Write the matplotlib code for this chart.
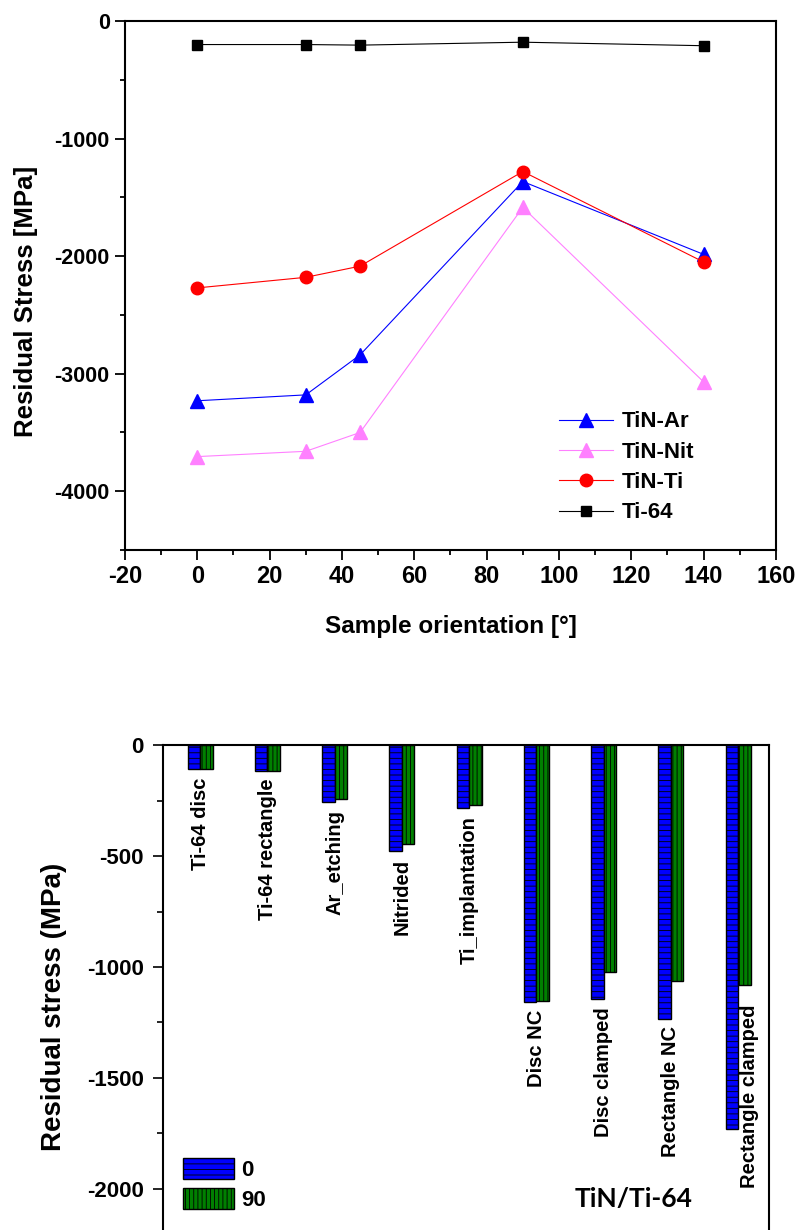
import numpy as np
import matplotlib
matplotlib.use("Agg")
from matplotlib import pyplot as plt
from matplotlib.ticker import MultipleLocator, FixedLocator

plt.rcParams['font.family'] = ['Liberation Sans', 'DejaVu Sans']
plt.rcParams['axes.unicode_minus'] = False
plt.rcParams['hatch.linewidth'] = 0.6

# top panel: residual stress vs sample orientation
orientation = [0, 30, 45, 90, 140]
tin_ar = [-3230, -3180, -2840, -1365, -1985]
tin_nit = [-3705, -3660, -3500, -1585, -3070]
tin_ti = [-2270, -2180, -2085, -1280, -2050]
ti64 = [-200, -200, -205, -180, -210]

# bottom panel: residual stress per sample, 0 and 90 deg
categories = ["Ti-64 disc", "Ti-64 rectangle", "Ar_etching", "Nitrided",
              "Ti_implantation", "Disc NC", "Disc clamped", "Rectangle NC",
              "Rectangle clamped"]
stress_0 = [-110, -116, -257, -476, -284, -1156, -1146, -1232, -1732]
stress_90 = [-110, -115, -243, -447, -269, -1153, -1023, -1065, -1081]

fig = plt.figure(figsize=(7.98, 12.3), dpi=100)

# ---------------- top panel ----------------
ax1 = fig.add_axes([0.1566, 0.5528, 0.8158, 0.4301])
ax1.plot(orientation, tin_ar, color='#0000ff', lw=0.8, marker='^', ms=10, label='TiN-Ar')
ax1.plot(orientation, tin_nit, color='#ff80ff', lw=0.8, marker='^', ms=10, label='TiN-Nit')
ax1.plot(orientation, tin_ti, color='#ff0000', lw=0.8, marker='o', ms=9, label='TiN-Ti')
ax1.plot(orientation, ti64, color='black', lw=0.8, marker='s', ms=7, label='Ti-64')

ax1.set_xlim(-20, 160)
ax1.set_ylim(-4500, 0)
ax1.xaxis.set_major_locator(MultipleLocator(20))
ax1.xaxis.set_minor_locator(MultipleLocator(10))
ax1.yaxis.set_major_locator(MultipleLocator(1000))
ax1.yaxis.set_minor_locator(MultipleLocator(500))
ax1.tick_params(which='major', direction='out', length=7, width=1.3)
ax1.tick_params(which='minor', direction='out', length=3.5, width=1.3)
ax1.tick_params(axis='x', labelsize=17, pad=4)
ax1.tick_params(axis='y', labelsize=15.5, pad=4)
for lab in ax1.get_xticklabels() + ax1.get_yticklabels():
    lab.set_fontweight('bold')
for sp in ax1.spines.values():
    sp.set_linewidth(1.5)

ax1.set_xlabel('Sample orientation [°]', fontsize=17.5, fontweight='bold')
ax1.xaxis.set_label_coords(0.5, -0.123)
ax1.set_ylabel('Residual Stress [MPa]', fontsize=18.5, fontweight='bold')
ax1.yaxis.set_label_coords(-0.133, 0.47)

ax1.legend(loc='upper left', bbox_to_anchor=(0.667, 0.262), frameon=False,
           prop={'size': 16, 'weight': 'bold'}, handlelength=2.4,
           labelspacing=0.42, borderpad=0, borderaxespad=0, handletextpad=0.4)

# ---------------- bottom panel ----------------
ax2 = fig.add_axes([0.2043, -0.0569, 0.7594, 0.4512])
x = np.arange(1, len(categories) + 1)
w = 0.186
ax2.bar(x - w / 2, stress_0, width=w, color='#0000ff', edgecolor='black',
        lw=1, hatch='---', label='0')
ax2.bar(x + w / 2, stress_90, width=w, color='#008000', edgecolor='black',
        lw=1, hatch='||||', label='90')

for i, name in enumerate(categories):
    if i == len(categories) - 1:
        # long label sits under the shorter 90 bar
        tx, ty = x[i] + 0.17, stress_90[i] - 90
    else:
        tx, ty = x[i], min(stress_0[i], stress_90[i]) - 35
    ax2.text(tx, ty, name, rotation=90, ha='center', va='top',
             fontsize=14.5, fontweight='bold')

ax2.text(7.45, -2045, 'TiN/Ti-64', ha='center', va='center',
         fontsize=19, fontweight='bold', family=['Lato', 'DejaVu Sans'])

ax2.set_xlim(0.45, 9.46)
ax2.set_ylim(-2500, 0)
ax2.set_xticks([])
ax2.yaxis.set_major_locator(FixedLocator([-2000, -1500, -1000, -500, 0]))
ax2.yaxis.set_minor_locator(FixedLocator([-2250, -1750, -1250, -750, -250]))
ax2.tick_params(which='major', direction='out', length=7, width=1.2, labelsize=16, pad=7)
ax2.tick_params(which='minor', direction='out', length=4, width=1.2)
for lab in ax2.get_yticklabels():
    lab.set_fontweight('bold')
for sp in ax2.spines.values():
    sp.set_linewidth(1.5)

ax2.set_ylabel('Residual stress (MPa)', fontsize=20, fontweight='bold')
ax2.yaxis.set_label_coords(-0.158, 0.529)

ax2.legend(loc='upper left', bbox_to_anchor=(0.033, 0.255), frameon=False,
           prop={'size': 16, 'weight': 'bold'}, handlelength=2.3,
           handleheight=1.05, labelspacing=0.3, borderpad=0,
           borderaxespad=0, handletextpad=0.3)

fig.savefig('out.png', dpi=100)
